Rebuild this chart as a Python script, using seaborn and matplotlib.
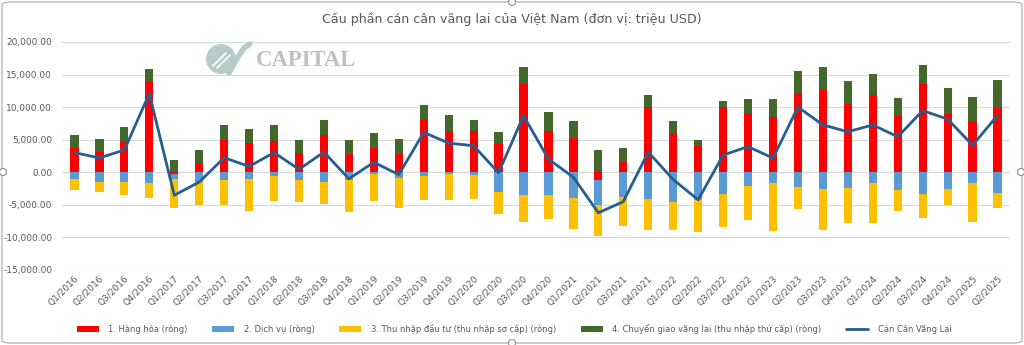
import numpy as np
import pandas as pd
import seaborn as sns
import matplotlib
matplotlib.use("Agg")
import matplotlib.pyplot as plt
from matplotlib.patches import Patch, FancyBboxPatch, Ellipse, Arc
from matplotlib.lines import Line2D
from matplotlib.ticker import FuncFormatter, MultipleLocator

quarters = ["Q1/2016", "Q2/2016", "Q3/2016", "Q4/2016",
            "Q1/2017", "Q2/2017", "Q3/2017", "Q4/2017",
            "Q1/2018", "Q2/2018", "Q3/2018", "Q4/2018",
            "Q1/2019", "Q2/2019", "Q3/2019", "Q4/2019",
            "Q1/2020", "Q2/2020", "Q3/2020", "Q4/2020",
            "Q1/2021", "Q2/2021", "Q3/2021", "Q4/2021",
            "Q1/2022", "Q2/2022", "Q3/2022", "Q4/2022",
            "Q1/2023", "Q2/2023", "Q3/2023", "Q4/2023",
            "Q1/2024", "Q2/2024", "Q3/2024", "Q4/2024",
            "Q1/2025", "Q2/2025"]

goods = [3789, 3174, 4813, 13978, -200, 1382, 5018, 4557,
         4813, 2970, 5734, 2867, 3789, 2867, 8243, 6298,
         6298, 4352, 13568, 6400, 5222, -1229, 1536, 9984,
         5990, 4096, 9984, 9165, 8499, 12186, 12646, 10547,
         11827, 8704, 13568, 8960, 7834, 9882]

services = [-1024, -1434, -1536, -1638, -824, -1434, -1178, -1024,
            -512, -1178, -1434, -1178, -200, -819, -563, -205,
            -461, -3021, -3533, -3533, -3942, -3840, -3789, -4096,
            -4557, -4250, -3379, -2048, -1638, -2304, -2560, -2458,
            -1638, -2714, -3379, -2560, -1638, -3226]

income = [-1690, -1586, -1997, -2253, -4454, -3635, -3891, -4864,
          -3840, -3379, -3430, -4864, -4254, -4659, -3738, -4096,
          -3584, -3379, -4045, -3635, -4762, -4659, -4454, -4813,
          -4352, -4915, -5018, -5325, -7373, -3328, -6349, -5376,
          -6196, -3276, -3687, -2406, -5940, -2252]

transfers = [1945, 1895, 2150, 1945, 1894, 2100, 2201, 2099,
             2509, 1996, 2253, 2099, 2201, 2202, 2099, 2457,
             1792, 1894, 2611, 2918, 2612, 3430, 2202, 1946,
             1844, 870, 922, 2048, 2714, 3379, 3533, 3533,
             3277, 2714, 2867, 4045, 3737, 4300]

current_account = [3020, 2200, 3430, 12080, -3530, -1500, 2230, 900,
                   3020, 460, 3100, -1000, 1536, -360, 6120, 4480,
                   4070, -80, 8680, 2020, -770, -6220, -4506, 3100,
                   -1120, -4220, 2640, 3940, 2180, 10010, 7270, 6220,
                   7270, 5450, 9470, 8160, 4150, 8730]

series_names = ["1. Hàng hóa (ròng)", "2. Dịch vụ (ròng)",
                "3. Thu nhập đầu tư (thu nhập sơ cấp) (ròng)",
                "4. Chuyển giao vãng lai (thu nhập thứ cấp) (ròng)",
                "Cán Cân Vãng Lai"]
title = "Cấu phần cán cân vãng lai của Việt Nam (đơn vị: triệu USD)"

C_RED = "#FF0000"
C_BLUE = "#5B9BD5"
C_YEL = "#FFC000"
C_GRN = "#43682B"
C_LINE = "#255E91"
C_TXT = "#595959"

sns.set_theme(style="white")
plt.rcParams["font.family"] = ["DejaVu Sans"]

df = pd.DataFrame({"q": quarters, "goods": goods, "services": services,
                   "income": income, "transfers": transfers,
                   "ca": current_account})
g = df["goods"].to_numpy(float)
neg_goods = np.minimum(g, 0)
pos_goods = np.maximum(g, 0)
df["pos_top"] = pos_goods + df["transfers"]
df["neg_mid"] = neg_goods + df["services"]
df["neg_bot"] = df["neg_mid"] + df["income"]

W, H = 1024, 345
fig = plt.figure(figsize=(10.24, 3.45), dpi=100)
ax = fig.add_axes([62 / W, 1 - 270 / H, 948 / W, 228 / H])

bw = 0.33
common = dict(x="q", order=quarters, ax=ax, width=bw, saturation=1,
              linewidth=0, errorbar=None)
sns.barplot(data=df, y="pos_top", color=C_GRN, **common)
sns.barplot(data=df, y="neg_bot", color=C_YEL, **common)
sns.barplot(data=df, y="neg_mid", color=C_BLUE, **common)
sns.barplot(data=df, y="goods", color=C_RED, **common)

df["xpos"] = np.arange(len(quarters))
sns.lineplot(data=df, x="xpos", y="ca", ax=ax, color=C_LINE, linewidth=2.0,
             sort=False, zorder=5)

ax.set_xlim(-0.5, len(quarters) - 0.5)
ax.set_ylim(-15000, 20000)
ax.yaxis.set_major_locator(MultipleLocator(5000))
ax.yaxis.set_major_formatter(FuncFormatter(lambda v, p: f"{v:,.2f}"))
ax.grid(axis="y", color="#D9D9D9", linewidth=0.8)
ax.set_axisbelow(True)
for s in ax.spines.values():
    s.set_visible(False)
ax.set_xlabel("")
ax.set_ylabel("")
ax.tick_params(axis="both", length=0, colors=C_TXT, labelsize=6.5)
ax.tick_params(axis="y", pad=7)
ax.tick_params(axis="x", pad=3)
ax.set_xticks(np.arange(len(quarters)))
ax.set_xticklabels(quarters, rotation=45, ha="right", rotation_mode="anchor")

fig.text(512 / W, 1 - 19 / H, title, ha="center", va="center",
         fontsize=9.1, color=C_TXT)

# watermark logo
LOGO = "#B7CCCA"
fig.patches.append(Ellipse((221 / W, 1 - 59 / H), 30 / W, 30 / H,
                           transform=fig.transFigure, facecolor=LOGO,
                           edgecolor="none", zorder=0))
fig.lines.append(Line2D([213 / W, 226 / W], [1 - 66 / H, 1 - 53 / H],
                        transform=fig.transFigure, color="white", lw=1.2))
fig.lines.append(Line2D([217 / W, 230 / W], [1 - 68 / H, 1 - 55 / H],
                        transform=fig.transFigure, color="white", lw=1.2))
fig.lines.append(Line2D([229 / W, 236 / W, 244 / W, 250 / W],
                        [1 - 73 / H, 1 - 60 / H, 1 - 48 / H, 1 - 44 / H],
                        transform=fig.transFigure, color=LOGO, lw=4,
                        solid_capstyle="round"))
fig.text(306 / W, 1 - 61 / H, "CAPITAL", ha="center", va="center",
         fontsize=16.4, family="Liberation Serif", weight="bold",
         color="#C0C0C0", zorder=0)

handles = [Patch(facecolor=C_RED, edgecolor="none"),
           Patch(facecolor=C_BLUE, edgecolor="none"),
           Patch(facecolor=C_YEL, edgecolor="none"),
           Patch(facecolor=C_GRN, edgecolor="none"),
           Line2D([0], [0], color=C_LINE, linewidth=2.0)]
leg = fig.legend(handles, series_names, loc="center",
                 bbox_to_anchor=(514 / W, 1 - 329 / H), ncol=5,
                 frameon=False, fontsize=6.0, handlelength=2.65,
                 handleheight=0.65, handletextpad=1.1, columnspacing=3.0,
                 labelcolor=C_TXT)

# chart border + selection handles
fig.patches.append(FancyBboxPatch((2 / W, 2 / H), 1020 / W, 341 / H,
                                  boxstyle="round,pad=0,rounding_size=0.008",
                                  transform=fig.transFigure, facecolor="none",
                                  edgecolor="#A6A6A6", linewidth=0.8))
for (hx, hy) in [(3, 172), (1021, 172), (512, 2), (512, 343)]:
    fig.patches.append(Ellipse((hx / W, 1 - hy / H), 7 / W, 7 / H,
                               transform=fig.transFigure, facecolor="white",
                               edgecolor="#8C8C8C", linewidth=0.8))

fig.savefig("out.png", dpi=100)
